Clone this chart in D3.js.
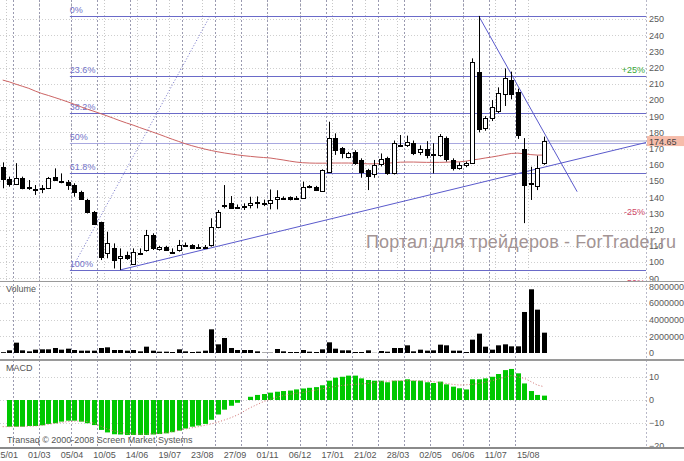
<!DOCTYPE html>
<html>
<head>
<meta charset="utf-8">
<script src="https://cdn.jsdelivr.net/npm/d3@7"></script>
<style>
  body { margin: 0; background: #fff; }
  text { font-family: "Liberation Sans", Arial, sans-serif; }
</style>
</head>
<body>
<div id="chart"></div>
<script>
// weekly bars, index 0..83
var tickLabels = ["25/01", "01/03", "05/04", "10/05", "14/06", "19/07", "23/08", "27/09", "01/11",
  "06/12", "17/01", "21/02", "28/03", "02/05", "06/06", "11/07", "15/08"];
var monthStarts = [1, 5, 10, 14, 19, 23, 27, 32, 36, 40, 45, 49, 53, 57, 61, 65, 70, 74, 78];

var open = [158.6, 151.0, 148.2, 151.7, 145.8, 145.0, 144.8, 145.5, 152.7, 149.8, 149.2, 147.5, 143.4, 138.3, 131.1, 124.9,
  105.4, 108.4, 102.3, 104.3, 99.2, 105.8, 107.4, 116.7, 108.0, 109.5, 106.4, 107.4, 110.5, 110.5, 109.5, 109.0,
  110.5, 121.8, 135.2, 136.6, 134.2, 134.0, 135.2, 136.6, 136.5, 136.2, 138.7, 139.6, 139.9, 139.2, 139.9, 146.9,
  146.1, 143.8, 155.2, 176.3, 170.2, 165.0, 168.1, 163.0, 156.8, 154.7, 160.3, 164.0, 154.7, 172.5, 172.2, 173.3,
  167.5, 169.5, 166.1, 166.1, 176.4, 163.0, 157.8, 159.9, 161.3, 217.5, 182.5, 188.7, 193.4, 203.7, 212.4, 205.1,
  169.6, 148.6, 146.5, 160.9];
var high = [161.5, 152.7, 161.0, 152.7, 150.6, 147.5, 147.5, 152.5, 157.8, 154.7, 150.6, 148.6, 144.0, 139.0, 131.5, 124.9,
  118.7, 111.5, 108.4, 106.4, 108.4, 108.4, 119.8, 117.7, 110.0, 110.0, 108.4, 113.6, 112.0, 111.0, 111.0, 110.5,
  127.0, 132.1, 147.5, 140.7, 135.5, 136.2, 140.3, 140.5, 138.5, 144.8, 144.3, 140.5, 140.5, 140.7, 149.6, 147.5,
  147.0, 157.2, 186.6, 179.4, 171.0, 168.0, 169.0, 164.0, 157.5, 163.0, 167.0, 165.0, 175.0, 178.4, 178.0, 175.0,
  172.0, 174.6, 173.3, 179.0, 177.5, 164.0, 161.5, 162.0, 225.7, 251.9, 190.0, 200.0, 207.8, 219.5, 217.5, 207.0,
  176.5, 158.8, 165.6, 177.4];
var low = [145.5, 146.5, 147.5, 144.9, 144.5, 141.4, 142.5, 145.0, 150.6, 148.6, 144.5, 140.3, 138.5, 130.0, 123.0, 101.2,
  102.3, 96.0, 95.1, 101.3, 99.0, 104.3, 106.4, 107.4, 107.0, 106.8, 105.4, 106.4, 109.5, 108.0, 108.4, 108.4,
  109.5, 120.8, 133.1, 133.1, 133.0, 132.1, 133.1, 133.1, 134.5, 132.5, 132.5, 139.0, 138.0, 138.3, 139.3, 145.5,
  143.8, 143.4, 155.2, 166.1, 164.0, 164.0, 160.0, 152.0, 144.4, 152.0, 159.0, 153.8, 154.0, 171.0, 171.0, 166.0,
  166.0, 164.0, 154.7, 165.0, 162.0, 156.5, 157.0, 158.5, 160.5, 180.0, 181.0, 187.0, 192.0, 196.3, 200.4, 176.0,
  124.0, 138.3, 144.4, 160.0];
var close = [151.0, 148.2, 151.7, 145.5, 146.3, 144.8, 145.5, 151.7, 151.0, 149.6, 147.5, 143.4, 139.3, 131.1, 123.9, 103.3,
  111.5, 101.3, 103.7, 102.3, 106.4, 105.6, 116.7, 108.4, 109.5, 107.4, 106.2, 110.5, 110.7, 108.4, 109.3, 109.2,
  121.8, 131.1, 135.4, 133.7, 134.1, 134.3, 136.6, 136.8, 136.7, 138.3, 139.9, 139.8, 138.7, 139.4, 146.5, 146.8,
  144.5, 156.8, 176.3, 169.1, 167.1, 167.5, 161.3, 155.8, 153.1, 160.0, 163.4, 154.7, 173.3, 172.2, 174.3, 167.1,
  169.5, 166.1, 166.4, 177.8, 163.4, 157.8, 159.9, 161.3, 223.6, 182.5, 188.7, 195.5, 204.5, 213.4, 203.7, 178.4,
  147.5, 148.2, 157.8, 174.65];
var movingAvg = [212.3, 211.2, 209.8, 208.5, 207.2, 205.5, 204.0, 202.8, 201.5, 200.2, 198.8, 197.3, 195.8, 194.3, 193.0, 191.6,
  190.2, 188.7, 187.2, 185.8, 184.5, 183.0, 181.6, 180.2, 178.8, 177.3, 175.8, 174.4, 173.0, 171.8, 170.7, 169.7,
  168.8, 168.0, 167.3, 166.7, 166.1, 165.6, 165.2, 164.8, 164.5, 164.2, 163.6, 163.0, 162.3, 161.7, 161.3, 161.1,
  161.0, 161.0, 161.0, 161.1, 161.1, 161.1, 161.0, 160.8, 160.6, 160.6, 160.8, 161.0, 161.3, 161.6, 161.7, 161.7,
  161.6, 161.5, 161.5, 161.5, 161.6, 161.8, 161.8, 162.2, 163.0, 163.5, 164.2, 164.8, 165.5, 166.3, 167.0, 167.2,
  166.8, 166.3, 166.0, 166.0];
var volume = [100000, 320000, 1240000, 320000, 200000, 400000, 440000, 440000, 600000, 400000, 520000, 360000, 280000,
  280000, 280000, 600000, 680000, 360000, 360000, 280000, 360000, 200000, 760000, 280000, 160000, 160000, 120000,
  440000, 200000, 120000, 160000, 280000, 2840000, 1040000, 1800000, 600000, 360000, 360000, 360000, 200000, 40000,
  40000, 480000, 200000, 120000, 120000, 360000, 160000, 120000, 440000, 1280000, 520000, 320000, 320000, 120000,
  120000, 320000, 20000, 240000, 160000, 600000, 600000, 920000, 200000, 400000, 280000, 320000, 1000000, 920000,
  280000, 280000, 120000, 1600000, 2320000, 760000, 400000, 920000, 1040000, 800000, 800000, 4920000, 7640000,
  5200000, 2440000];
var macdHist = [null, -11.6, -11.6, -11.6, -11.3, -11.3, -11.0, -10.4, -10.1, -9.4, -9.0, -9.0, -9.4, -10.1, -10.9, -13.0,
  -14.1, -14.9, -15.0, -15.2, -15.2, -15.2, -15.2, -15.0, -14.8, -14.5, -14.0, -13.3, -12.4, -11.6, -11.1, -10.4,
  -8.6, -6.3, -4.2, -2.5, -1.2, 0, 1.4, 2.2, 2.6, 3.2, 3.6, 3.9, 4.1, 4.6, 5.0, 5.3,
  5.6, 6.4, 8.4, 9.7, 10.1, 10.6, 10.6, 9.4, 8.7, 8.4, 8.4, 7.7, 8.4, 8.4, 9.0, 8.4,
  8.4, 7.7, 7.4, 8.0, 6.8, 5.8, 5.1, 4.6, 9.0, 9.0, 9.4, 10.1, 11.3, 13.0, 13.5, 11.6,
  7.2, 3.9, 2.2, 1.9];
var macdSignal = [-11.6, -11.6, -11.5, -11.5, -11.4, -11.3, -11.0, -10.6, -10.1, -9.7, -9.4, -9.2, -9.1, -9.4, -10.1, -11.3,
  -12.6, -13.4, -14.1, -14.5, -14.8, -14.8, -14.8, -14.7, -14.5, -14.2, -13.8, -13.2, -12.6, -12.1, -11.6, -11.0,
  -10.4, -9.6, -8.7, -7.7, -6.5, -4.9, -3.3, -2.0, -0.7, 0.3, 1.2, 1.9, 2.5, 2.9, 3.3, 3.8,
  4.3, 4.9, 5.4, 5.9, 6.3, 6.6, 6.8, 7.0, 7.2, 7.6, 8.0, 8.2, 8.3, 8.4, 8.4, 8.4,
  8.3, 8.2, 8.0, 7.6, 7.2, 6.8, 6.5, 6.6, 6.8, 7.2, 7.7, 8.4, 9.1, 9.9, 10.6, 10.1,
  9.4, 8.0, 6.5, 5.8];

// drawings on the price panel (bar index, price)
var fibHigh = 251.9, fibLow = 95.1, fibStart = 10.3;
var fibLevels = [0, 0.236, 0.382, 0.5, 0.618, 1];
var fibLabels = ["0%", "23.6%", "38.2%", "50%", "61.8%", "100%"];
var trendLines = [[18, 95.1, 98.8, 173.9], [73, 251.9, 88.1, 143.4]];
var dottedLines = [[10.5, 95.1, 31.8, 251.9]];
var lastPrice = 174.65;
var pctLevels = [25, -25, -50];

var width = 684, height = 461, plotRight = 646;
var panels = { price: [0, 281], vol: [281, 360], macd: [360, 448] };

var svg = d3.select('#chart').append('svg')
  .attr('width', width)
  .attr('height', height);

var x = d3.scaleLinear().domain([0, 83]).range([2.7, 543.9]);
var y = d3.scaleLinear().domain([90, 250]).range([278.2, 19]);
var yVol = d3.scaleLinear().domain([0, 8000000]).range([353, 286.3]);
var yMacd = d3.scaleLinear().domain([-20, 10]).range([446, 377]);

var defs = svg.append('defs');
Object.keys(panels).forEach(function(k) {
  defs.append('clipPath').attr('id', 'clip-' + k).append('rect')
    .attr('x', 0).attr('y', panels[k][0]).attr('width', plotRight).attr('height', panels[k][1] - panels[k][0]);
  defs.append('clipPath').attr('id', 'clipw-' + k).append('rect')
    .attr('x', 0).attr('y', panels[k][0] + 1).attr('width', width).attr('height', panels[k][1] - panels[k][0] - 1);
});

function px(v) { return Math.round(v) + 0.5; }

// horizontal grid
function hgrid(scale, values, panel) {
  svg.append('g').attr('clip-path', 'url(#clip-' + panel + ')')
    .selectAll('line').data(values).enter().append('line')
    .attr('x1', 0).attr('x2', plotRight)
    .attr('y1', function(d) { return px(scale(d)); })
    .attr('y2', function(d) { return px(scale(d)); })
    .attr('stroke', '#cfcfcf').attr('stroke-dasharray', '1,2');
}
hgrid(y, d3.range(90, 251, 10), 'price');
hgrid(yVol, [2000000, 4000000, 6000000, 8000000], 'vol');
hgrid(yMacd, [-10, 0, 10], 'macd');

// vertical grid: label positions (price panel) and month starts (all panels)
svg.append('g').selectAll('line').data(tickLabels).enter().append('line')
  .attr('x1', function(d, i) { return px(x(i * 5) + 3.5); })
  .attr('x2', function(d, i) { return px(x(i * 5) + 3.5); })
  .attr('y1', 0).attr('y2', panels.price[1])
  .attr('stroke', '#c8c8c8').attr('stroke-dasharray', '1,2');

svg.append('g').selectAll('line').data(monthStarts).enter().append('line')
  .attr('x1', function(d) { return px(x(d) + 3.5); })
  .attr('x2', function(d) { return px(x(d) + 3.5); })
  .attr('y1', 0).attr('y2', panels.macd[1])
  .attr('stroke', '#9a9ab0').attr('stroke-dasharray', '2,2');

svg.append('line').attr('x1', plotRight + 0.5).attr('x2', plotRight + 0.5)
  .attr('y1', 0).attr('y2', panels.macd[1])
  .attr('stroke', '#b8b8c8').attr('stroke-dasharray', '2,2');

// ---- price panel ----
var pg = svg.append('g').attr('clip-path', 'url(#clip-price)');

// fibonacci levels
fibLevels.forEach(function(l, i) {
  var v = fibHigh - (fibHigh - fibLow) * l;
  pg.append('line')
    .attr('x1', x(fibStart)).attr('x2', plotRight)
    .attr('y1', px(y(v))).attr('y2', px(y(v)))
    .attr('stroke', l === 0.5 ? '#a8a8e0' : '#6a6ac8').attr('stroke-width', 1);
  pg.append('text')
    .attr('x', x(fibStart)).attr('y', y(v) - 3)
    .attr('fill', '#7272c8').style('font-size', '9px')
    .text(fibLabels[i]);
});

// last price line
pg.append('line')
  .attr('x1', x(83)).attr('x2', plotRight)
  .attr('y1', y(lastPrice)).attr('y2', y(lastPrice))
  .attr('stroke', '#c8c8dc').attr('stroke-width', 1.5);

// moving average
pg.append('path')
  .datum(movingAvg)
  .attr('fill', 'none').attr('stroke', '#cc6464').attr('stroke-width', 1)
  .attr('d', d3.line().x(function(d, i) { return x(i); }).y(function(d) { return y(d); }));

// trend lines
pg.selectAll('.trend').data(trendLines).enter().append('line')
  .attr('class', 'trend')
  .attr('x1', function(d) { return x(d[0]); }).attr('y1', function(d) { return y(d[1]); })
  .attr('x2', function(d) { return x(d[2]); }).attr('y2', function(d) { return y(d[3]); })
  .attr('stroke', '#5a5acc').attr('stroke-width', 1);

pg.selectAll('.dotted').data(dottedLines).enter().append('line')
  .attr('class', 'dotted')
  .attr('x1', function(d) { return x(d[0]); }).attr('y1', function(d) { return y(d[1]); })
  .attr('x2', function(d) { return x(d[2]); }).attr('y2', function(d) { return y(d[3]); })
  .attr('stroke', '#7070c8').attr('stroke-width', 1).attr('stroke-dasharray', '1,2');

// candles
var candles = pg.selectAll('.candle').data(close).enter().append('g').attr('class', 'candle');
candles.append('line')
  .attr('x1', function(d, i) { return px(x(i)); })
  .attr('x2', function(d, i) { return px(x(i)); })
  .attr('y1', function(d, i) { return y(high[i]); })
  .attr('y2', function(d, i) { return y(low[i]); })
  .attr('stroke', '#000');
candles.append('rect')
  .attr('x', function(d, i) { return px(x(i)) - 2; })
  .attr('width', 4)
  .attr('y', function(d, i) { return Math.round(y(Math.max(open[i], d))) + 0.5; })
  .attr('height', function(d, i) { return Math.max(1, Math.round(Math.abs(y(open[i]) - y(d)))); })
  .attr('fill', function(d, i) { return d < open[i] ? '#000' : '#fff'; })
  .attr('stroke', '#000');

// percent labels from the last price
svg.append('g').attr('clip-path', 'url(#clipw-price)')
  .selectAll('text').data(pctLevels).enter().append('text')
  .attr('x', plotRight - 1).attr('y', function(d) { return y(lastPrice * (1 + d / 100)) + 3; })
  .attr('text-anchor', 'end').style('font-size', '9px')
  .attr('fill', function(d) { return d > 0 ? '#3aa83a' : '#d04a6a'; })
  .text(function(d) { return (d > 0 ? '+' : '') + d + '%'; });

// ---- volume panel ----
svg.append('g').attr('clip-path', 'url(#clip-vol)')
  .selectAll('rect').data(volume).enter().append('rect')
  .attr('x', function(d, i) { return Math.round(x(i)) - 2; })
  .attr('width', 5)
  .attr('y', function(d) { return yVol(d); })
  .attr('height', function(d) { return yVol(0) - yVol(d); })
  .attr('fill', '#000');

// ---- macd panel ----
var mg = svg.append('g').attr('clip-path', 'url(#clip-macd)');
var histData = macdHist.map(function(v, i) { return { i: i, v: v }; })
  .filter(function(d) { return d.v !== null; });
mg.selectAll('.hist').data(histData)
  .enter().append('rect').attr('class', 'hist')
  .attr('x', function(d) { return Math.round(x(d.i)) - 2; })
  .attr('width', 5)
  .attr('y', function(d) { return yMacd(Math.max(0, d.v)); })
  .attr('height', function(d) { return Math.abs(yMacd(d.v) - yMacd(0)); })
  .attr('fill', '#00c800');
mg.append('path')
  .datum(macdSignal)
  .attr('fill', 'none').attr('stroke', '#d07070').attr('stroke-width', 1)
  .attr('stroke-dasharray', '1,2')
  .attr('d', d3.line().x(function(d, i) { return x(i); }).y(function(d) { return yMacd(d); }));

// ---- right axes ----
function rightAxis(scale, values, panel) {
  var g = svg.append('g')
    .attr('clip-path', 'url(#clipw-' + panel + ')')
    .attr('transform', 'translate(' + (plotRight + 2) + ',0)')
    .call(d3.axisRight(scale).tickValues(values).tickSize(0).tickPadding(1).tickFormat(d3.format('d')));
  g.select('.domain').remove();
  g.selectAll('text').attr('fill', '#5a5a5a').style('font-size', '9px')
    .style('font-family', '"Liberation Sans", Arial, sans-serif');
}
rightAxis(y, d3.range(90, 251, 10), 'price');
rightAxis(yVol, [0, 2000000, 4000000, 6000000, 8000000], 'vol');
rightAxis(yMacd, [-20, -10, 0, 10], 'macd');

// last price tag
svg.append('rect')
  .attr('x', plotRight + 1).attr('y', y(lastPrice) - 5)
  .attr('width', width - plotRight - 1).attr('height', 10)
  .attr('fill', '#f6bcaa');
svg.append('text')
  .attr('x', plotRight + 3).attr('y', y(lastPrice) + 3.5)
  .attr('fill', '#444').style('font-size', '9px')
  .text(lastPrice.toFixed(2));

// watermark
svg.append('text')
  .attr('x', 366).attr('y', 248)
  .attr('fill', '#a39494').style('font-size', '18px')
  .attr('textLength', 310).attr('lengthAdjust', 'spacing')
  .text('Портал для трейдеров - ForTrader.ru');

// panel titles and footer
svg.append('text').attr('x', 6).attr('y', 292).attr('fill', '#555').style('font-size', '9px').text('Volume');
svg.append('text').attr('x', 6).attr('y', 371).attr('fill', '#555').style('font-size', '9px').text('MACD');
svg.append('text').attr('x', 7).attr('y', 443).attr('fill', '#555').style('font-size', '9px')
  .text('Transaq \u00a9 2000-2008 Screen Market Systems');

// panel separators
[[panels.vol[0], 1, '#9a9a9a'], [panels.macd[0], 2, '#9a9a9a'], [panels.macd[1], 2, '#8a8a8a']].forEach(function(s) {
  var yy = s[0] + (s[1] === 1 ? 0.5 : 0);
  svg.append('line').attr('x1', 0).attr('x2', width)
    .attr('y1', yy).attr('y2', yy)
    .attr('stroke', s[2]).attr('stroke-width', s[1]);
});

// x labels
svg.append('g').selectAll('text').data(tickLabels).enter().append('text')
  .attr('x', function(d, i) { return x(i * 5) + 4; })
  .attr('y', 458)
  .attr('text-anchor', 'middle')
  .attr('fill', '#555').style('font-size', '9px')
  .text(function(d) { return d; });
</script>
</body>
</html>
